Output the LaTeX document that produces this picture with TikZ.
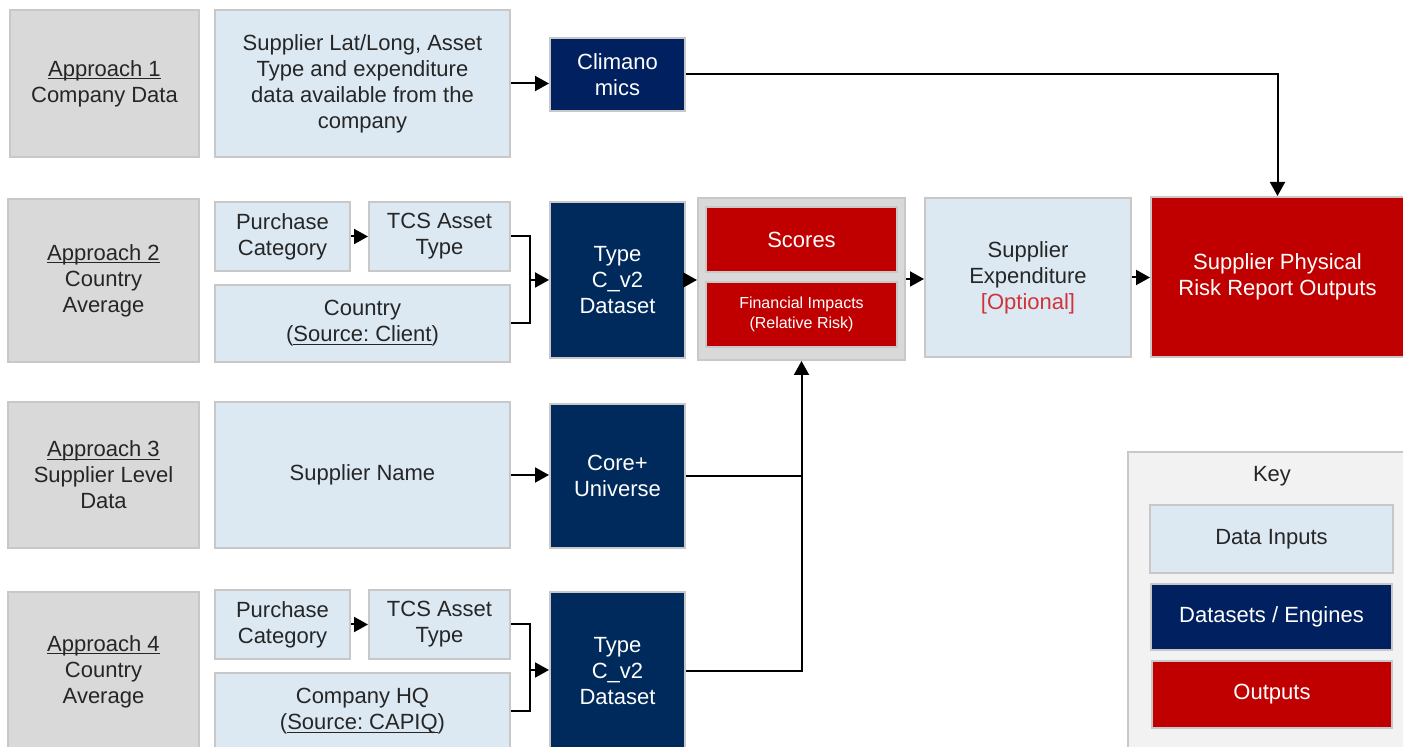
\documentclass[tikz,border=0pt]{standalone}
\usepackage{fontspec}
\setmainfont{Liberation Sans}
\usetikzlibrary{arrows.meta}
\frenchspacing

\definecolor{txtgray}{HTML}{262626}
\definecolor{edgegray}{HTML}{C8C8C8}
\definecolor{appgray}{HTML}{D9D9D9}
\definecolor{inblue}{HTML}{DCE9F3}
\definecolor{navy}{HTML}{002A5C}
\definecolor{climnavy}{HTML}{00205F}
\definecolor{outred}{HTML}{C00000}
\definecolor{keygray}{HTML}{F2F2F2}
\definecolor{optred}{HTML}{D0343A}

% underline close to the baseline
\newcommand{\uln}[1]{\leavevmode\setbox0\hbox{#1}\rlap{\rule[-1.4pt]{\wd0}{0.5pt}}\box0}

\tikzset{
  box/.style={draw=edgegray, line width=1pt, inner sep=0pt, align=center,
    font=\fontsize{11}{13}\selectfont},
  approach/.style={box, fill=appgray, text=txtgray},
  inbox/.style={box, fill=inblue, text=txtgray},
  engine/.style={box, fill=navy, text=white},
  outbox/.style={box, fill=outred, text=white},
  link/.style={line width=1pt, black},
  arr/.style={link, -{Triangle[length=7pt,width=7.5pt]}}
}

\begin{document}
\begin{tikzpicture}[x=0.5pt, y=-0.5pt]

		\useasboundingbox[fill=white] (0,0) rectangle (1403,747);

		% row 1
		\node[approach, minimum width=94.5pt, minimum height=73.5pt] (a1) at (104.5, 83.5) {\uln{Approach 1}\\Company Data};
		\node[inbox, minimum width=147.5pt, minimum height=73.5pt] (latlong) at (362.5, 83.5) {Supplier Lat/Long, Asset\\Type and expenditure\\data available from the\\company};
		\node[engine, fill=climnavy, minimum width=67.5pt, minimum height=36.5pt] (clim) at (617.5, 74.5) {Climano\\mics};

		% row 2
		\node[approach, minimum width=95.5pt, minimum height=81.5pt] (a2) at (103.5, 280.5) {\uln{Approach 2}\\Country\\Average};
		\node[inbox, minimum width=67.5pt, minimum height=34.5pt] (pc2) at (282.5, 236.5) {Purchase\\Category};
		\node[inbox, minimum width=70.5pt, minimum height=34.5pt] (tcs2) at (439.5, 236.5) {TCS Asset\\Type};
		\node[inbox, minimum width=147.5pt, minimum height=38.5pt] (cty) at (362.5, 323.5) {Country\\(\uln{Source: Client})};
		\node[engine, minimum width=67.5pt, minimum height=78pt] (type2) at (617.5, 280) {Type\\C\_v2\\Dataset};
		\node[box, fill=appgray, minimum width=103.5pt, minimum height=81pt] (grp) at (801.5, 279) {};
		\node[outbox, minimum width=95.5pt, minimum height=32.5pt] (scores) at (801.5, 239.5) {Scores};
		\node[outbox, minimum width=95.5pt, minimum height=32.5pt, font=\fontsize{8}{10}\selectfont] (fin) at (801.5, 314.5) {Financial Impacts\\(Relative Risk)};
		\node[inbox, minimum width=103pt, minimum height=79.5pt] (spend) at (1028, 277.5) {Supplier\\Expenditure\\\textcolor{optred}{[Optional]}};
		\node[outbox, minimum width=126.5pt, minimum height=80pt] (report) at (1277.5, 277) {Supplier Physical\\Risk Report Outputs};

		% row 3
		\node[approach, minimum width=95.5pt, minimum height=73pt] (a3) at (103.5, 475) {\uln{Approach 3}\\Supplier Level\\Data};
		\node[inbox, minimum width=147.5pt, minimum height=73pt] (sname) at (362.5, 475) {Supplier Name};
		\node[engine, minimum width=67.5pt, minimum height=72pt] (core) at (617.5, 476) {Core+\\Universe};

		% row 4
		\node[approach, minimum width=95.5pt, minimum height=80pt] (a4) at (103.5, 672) {\uln{Approach 4}\\Country\\Average};
		\node[inbox, minimum width=67.5pt, minimum height=34.5pt] (pc4) at (282.5, 624.5) {Purchase\\Category};
		\node[inbox, minimum width=70.5pt, minimum height=34.5pt] (tcs4) at (439.5, 624.5) {TCS Asset\\Type};
		\node[inbox, minimum width=147.5pt, minimum height=38.5pt] (hq) at (362.5, 711.5) {Company HQ\\(\uln{Source: CAPIQ})};
		\node[engine, minimum width=67.5pt, minimum height=79pt] (type4) at (617.5, 671) {Type\\C\_v2\\Dataset};

		% key
		\draw[fill=keygray, draw=edgegray, line width=1pt] (1128, 452) rectangle (1420, 770);
		\node[text=txtgray, font=\fontsize{11}{13}\selectfont] (keytitle) at (1272, 476) {Key};
		\node[inbox, minimum width=121.5pt, minimum height=34pt] (kin) at (1271.5, 539) {Data Inputs};
		\node[engine, fill=climnavy, minimum width=120.5pt, minimum height=33pt] (keng) at (1271.5, 617) {Datasets / Engines};
		\node[outbox, minimum width=120pt, minimum height=33.5pt] (kout) at (1272, 694.5) {Outputs};

		% joints
		\coordinate (j2) at (530, 280);
		\coordinate (j4) at (530, 670);

		\draw[arr] (latlong.east) -- (latlong.east -| clim.west);
		\draw[arr] (clim.east) -| (report.north);

		\draw[arr] (pc2.east) -- (tcs2.west);
		\draw[link] (tcs2.east) -| (j2) |- (cty.east);
		\draw[arr] (j2) -- (j2 -| type2.west);
		\draw[arr] (type2.east) -- (type2.east -| grp.west);
		\draw[arr] (grp.east) -- (grp.east -| spend.west);
		\draw[arr] (spend.east) -- (spend.east -| report.west);

		\draw[arr] (sname.east) -- (sname.east -| core.west);
		\draw[arr] (core.east) -| (grp.south);

		\draw[arr] (pc4.east) -- (tcs4.west);
		\draw[link] (tcs4.east) -| (j4) |- (hq.east);
		\draw[arr] (j4) -- (j4 -| type4.west);
		\draw[link] (type4.east) -| (core.east -| grp.south);

	\end{tikzpicture}
\end{document}
